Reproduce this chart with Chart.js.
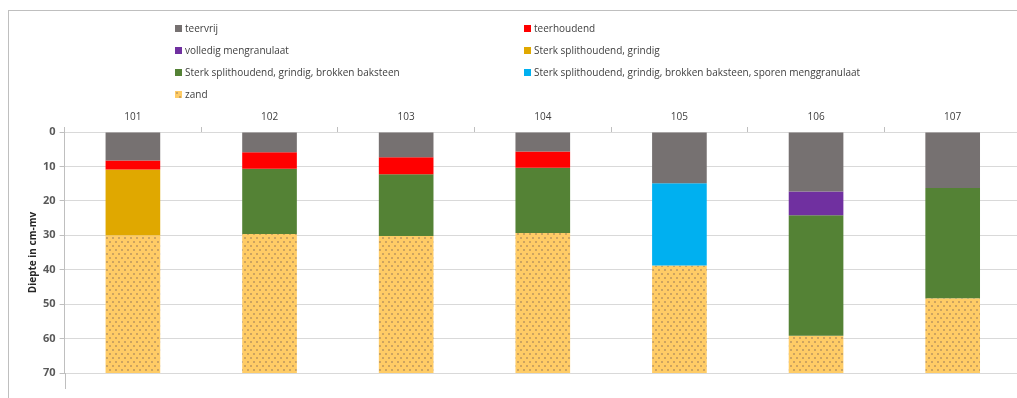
<!DOCTYPE html>
<html>
<head>
<meta charset="utf-8">
<script src="https://cdn.jsdelivr.net/npm/chart.js@4/dist/chart.umd.min.js"></script>
<style>
  html, body { margin: 0; padding: 0; width: 1017px; height: 398px; overflow: hidden; background: #fff; }
  #frame { position: absolute; left: 8px; top: 10px; width: 1100px; height: 500px; border-top: 1px solid #BFBFBF; border-left: 1px solid #BFBFBF; }
  #wrap { position: absolute; left: 0; top: 0; width: 1021px; height: 398px; }
  #legend { position: absolute; left: 0; top: 0; width: 1017px; height: 110px; font-family: "Open Sans", "Liberation Sans", sans-serif; font-size: 10px; color: #404040; }
  .li { position: absolute; height: 14px; line-height: 14px; white-space: nowrap; }
  .li span.box { display: inline-block; width: 7px; height: 7px; margin-right: 3px; vertical-align: 0px; }
</style>
</head>
<body>
<div id="frame"></div>
<div id="wrap"><canvas id="c" width="1021" height="398"></canvas></div>
<div id="legend"></div>
<script>
const categories = ['101', '102', '103', '104', '105', '106', '107'];
const seriesNames = [
  'teervrij',
  'teerhoudend',
  'volledig mengranulaat',
  'Sterk splithoudend, grindig',
  'Sterk splithoudend, grindig, brokken baksteen',
  'Sterk splithoudend, grindig, brokken baksteen, sporen menggranulaat',
  'zand'
];
// layer thicknesses in cm per borehole
const teervrij      = [8.3, 5.9, 7.3, 5.7, 14.9, 17.3, 16.3];
const teerhoudend   = [2.6, 4.8, 5.0, 4.7, 0, 0, 0];
const volledigMeng  = [0, 0, 0, 0, 0, 6.9, 0];
const splitGrindig  = [19.1, 0, 0, 0, 0, 0, 0];
const splitBaksteen = [0, 18.9, 17.9, 18.9, 0, 35.0, 32.0];
const splitSporen   = [0, 0, 0, 0, 23.9, 0, 0];
const zand          = [40.0, 40.4, 39.8, 40.7, 31.2, 10.8, 21.7];
const yTicks = [0, 10, 20, 30, 40, 50, 60, 70];

const colors = ['#767171', '#FF0000', '#7030A0', '#E0A800', '#548235', '#00B0F0', null];

// dotted sand pattern
const pc = document.createElement('canvas');
pc.width = 6; pc.height = 8;
const px = pc.getContext('2d');
px.fillStyle = '#FFCC66'; px.fillRect(0, 0, 6, 8);
px.fillStyle = '#CDA460';
px.fillRect(1, 1, 2, 2);
px.fillRect(4, 5, 2, 2);
const sandPattern = px.createPattern(pc, 'repeat');
colors[6] = sandPattern;

const seriesData = [teervrij, teerhoudend, volledigMeng, splitGrindig, splitBaksteen, splitSporen, zand];

const datasets = seriesNames.map((name, i) => ({
  label: name,
  data: seriesData[i],
  backgroundColor: colors[i],
  borderWidth: 0,
  barPercentage: 0.4,
  categoryPercentage: 1.0
}));

const yAxisExtend = {
  id: 'yAxisExtend',
  afterDraw(chart) {
    const ctx = chart.ctx;
    const x = chart.scales.y.right;
    ctx.save();
    ctx.strokeStyle = '#BFBFBF';
    ctx.lineWidth = 1;
    ctx.beginPath();
    ctx.moveTo(Math.round(x) + 0.5, chart.chartArea.bottom);
    ctx.lineTo(Math.round(x) + 0.5, chart.chartArea.bottom + 16);
    ctx.stroke();
    ctx.restore();
  }
};

const chart = new Chart(document.getElementById('c'), {
  type: 'bar',
  data: { labels: categories, datasets },
  options: {
    responsive: false,
    animation: false,
    layout: { padding: { left: 27, top: 107, right: 0, bottom: 25 } },
    plugins: { legend: { display: false }, tooltip: { enabled: false } },
    scales: {
      x: {
        position: 'top',
        stacked: true,
        grid: { offset: true, drawOnChartArea: false, drawTicks: true, tickLength: 5, color: '#BFBFBF' },
        border: { display: true, color: '#D9D9D9' },
        ticks: { color: '#404040', font: { family: 'Open Sans', size: 10 }, padding: 4 },
      },
      y: {
        stacked: true,
        reverse: true,
        min: 0,
        max: 70,
        afterBuildTicks(axis) { axis.ticks = yTicks.map(v => ({ value: v })); },
        grid: { color: '#D9D9D9', tickLength: 5, tickColor: '#BFBFBF' },
        border: { display: true, color: '#BFBFBF' },
        ticks: { color: '#595959', font: { family: 'Open Sans', size: 11, weight: 'bold' }, padding: 4 },
        title: { display: true, text: 'Diepte in cm-mv', color: '#262626', font: { family: 'Open Sans', size: 10, weight: 'bold' }, padding: { top: 0, bottom: 0 } }
      }
    }
  },
  plugins: [yAxisExtend]
});

// HTML legend in two columns, built from the chart's datasets
const legend = document.getElementById('legend');
const colX = [175, 524];
const rowY = [21, 43, 65, 87];
const patUrl = pc.toDataURL();
chart.data.datasets.forEach((ds, i) => {
  const d = document.createElement('div');
  d.className = 'li';
  d.style.left = colX[i % 2] + 'px';
  d.style.top = rowY[Math.floor(i / 2)] + 'px';
  const b = document.createElement('span');
  b.className = 'box';
  if (i === 6) { b.style.backgroundImage = 'url(' + patUrl + ')'; }
  else { b.style.background = ds.backgroundColor; }
  d.appendChild(b);
  d.appendChild(document.createTextNode(ds.label));
  legend.appendChild(d);
});
</script>
</body>
</html>
